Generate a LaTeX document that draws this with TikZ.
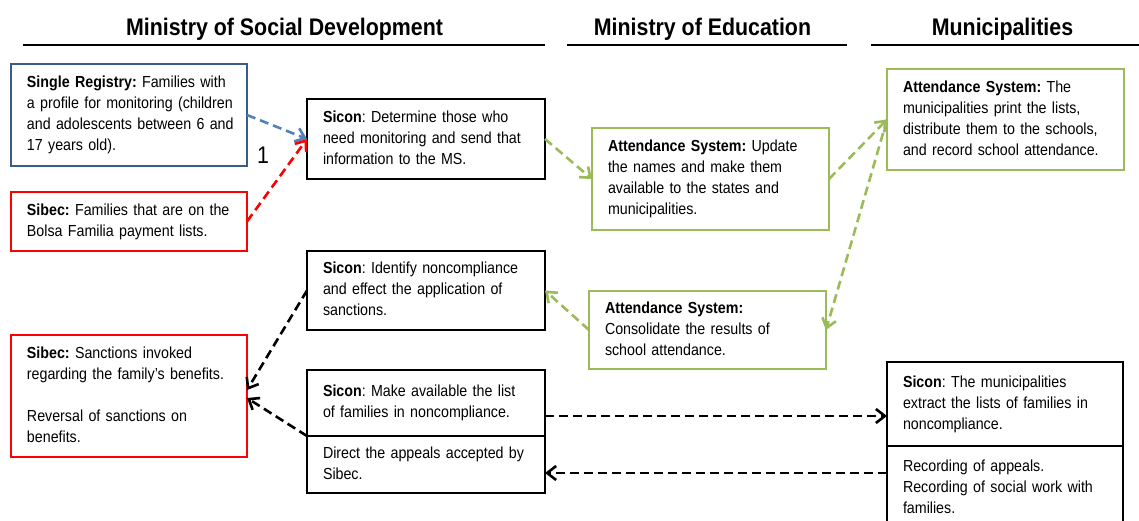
\documentclass[tikz,border=0pt]{standalone}
\usepackage{fontspec}
\setmainfont{Liberation Sans}[FakeStretch=0.89]
\frenchspacing
\usetikzlibrary{positioning,arrows.meta}
\definecolor{regblue}{RGB}{56,93,138}
\definecolor{arrblue}{RGB}{79,129,189}
\definecolor{sysgreen}{RGB}{155,187,89}
\definecolor{sibecred}{RGB}{255,0,0}
\newcommand{\rows}[1]{\begin{tabular}{@{}l@{}}#1\end{tabular}}

\begin{document}
\begin{tikzpicture}[x=1pt, y=-1pt,
    box/.style={draw, line width=2pt, outer sep=0pt, inner xsep=16pt,
      inner ysep=0pt, align=left, font=\fontsize{16}{21}\selectfont},
    head/.style={anchor=base, font=\fontsize{24}{28}\selectfont\bfseries},
    rule/.style={line width=2pt},
    flow/.style={line width=2.6pt, dash pattern=on 9pt off 5pt,
      -{Straight Barb[length=9pt,width=14pt]}}]
  \useasboundingbox (0,0) rectangle (1139,521);
  \clip (0,0) rectangle (1139,521);
  \fill[white] (0,0) rectangle (1139,521);

  % column headings
  \node[head] (hsocial) at (284.5,36) {Ministry of Social Development};
  \node[head] (heduc) at (702.5,36) {Ministry of Education};
  \node[head] (hmun) at (1002.5,36) {Municipalities};
  \draw[rule] (22.5,45) -- (545,45);
  \draw[rule] (567,45) -- (847,45);
  \draw[rule] (871,45) -- (1139,45);

  % Ministry of Social Development
  \node[box, draw=regblue, text width=204pt, minimum height=102pt] (sr) at (129,115)
    {\rows{\textbf{Single Registry:} Families with\\ a profile for monitoring (children\\
      and adolescents between 6 and\\ 17 years old).}};
  \node[box, draw=sibecred, text width=204pt, minimum height=59pt] (sibecA) at (129,221.5)
    {\rows{\textbf{Sibec:} Families that are on the\\ Bolsa Familia payment lists.}};
  \node[box, draw=sibecred, text width=204pt, minimum height=122pt] (sibecB) at (129,396)
    {\rows{\textbf{Sibec:} Sanctions invoked\\ regarding the family’s benefits.\\ \\
      Reversal of sanctions on\\ benefits.}};
  \node[box, text width=206pt, minimum height=80pt] (siconA) at (426,139)
    {\rows{\textbf{Sicon}: Determine those who\\ need monitoring and send that\\
      information to the MS.}};
  \node[box, text width=206pt, minimum height=79pt] (siconB) at (426,290.5)
    {\rows{\textbf{Sicon}: Identify noncompliance\\ and effect the application of\\ sanctions.}};
  \node[box, text width=206pt, minimum height=66pt] (siconCtop) at (426,403)
    {\rows{\textbf{Sicon}: Make available the list\\ of families in noncompliance.}};
  \node[box, text width=206pt, minimum height=57pt, below=0pt of siconCtop] (siconCbot)
    {\rows{Direct the appeals accepted by\\ Sibec.}};
  \node[font=\fontsize{24}{28}\selectfont] (one) at (263,155.5) {1};

  % Ministry of Education
  \node[box, draw=sysgreen, text width=205pt, minimum height=102pt] (attA) at (710.5,179)
    {\rows{\textbf{Attendance System:} Update\\ the names and make them\\
      available to the states and\\ municipalities.}};
  \node[box, draw=sysgreen, text width=205pt, minimum height=78pt] (attC) at (707.5,330)
    {\rows{\textbf{Attendance System:}\\ Consolidate the results of\\ school attendance.}};

  % Municipalities
  \node[box, draw=sysgreen, text width=205pt, minimum height=101pt] (attB) at (1005.5,119.5)
    {\rows{\textbf{Attendance System:} The\\ municipalities print the lists,\\
      distribute them to the schools,\\ and record school attendance.}};
  \node[box, text width=204pt, minimum height=84pt] (siconDtop) at (1005,404)
    {\rows{\textbf{Sicon}: The municipalities\\ extract the lists of families in\\ noncompliance.}};
  \node[box, text width=204pt, minimum height=84pt, below=0pt of siconDtop] (siconDbot)
    {\rows{Recording of appeals.\\ Recording of social work with\\ families.}};

  % connectors
  \draw[flow, arrblue] (sr.east) -- (siconA.west);
  \draw[flow, sibecred] (sibecA.east) -- (siconA.west);
  \draw[flow, sysgreen] (siconA.east) -- (attA.west);
  \draw[flow, sysgreen] (attA.east) -- (attB.west);
  \draw[flow, sysgreen] (attB.west) -- (attC.east);
  \draw[flow, sysgreen] (attC.west) -- (siconB.east);
  \draw[flow] (siconB.west) -- ([yshift=6pt]sibecB.east);
  \draw[flow] (siconCtop.south west) -- ([yshift=-2pt]sibecB.east);
  \coordinate (out) at ([yshift=-13pt]siconCtop.east);
  \coordinate (back) at ([yshift=-8.5pt]siconCbot.east);
  \draw[flow] (out) -- (siconDtop.west |- out);
  \draw[flow] (siconDbot.west |- back) -- (back);
\end{tikzpicture}
\end{document}
